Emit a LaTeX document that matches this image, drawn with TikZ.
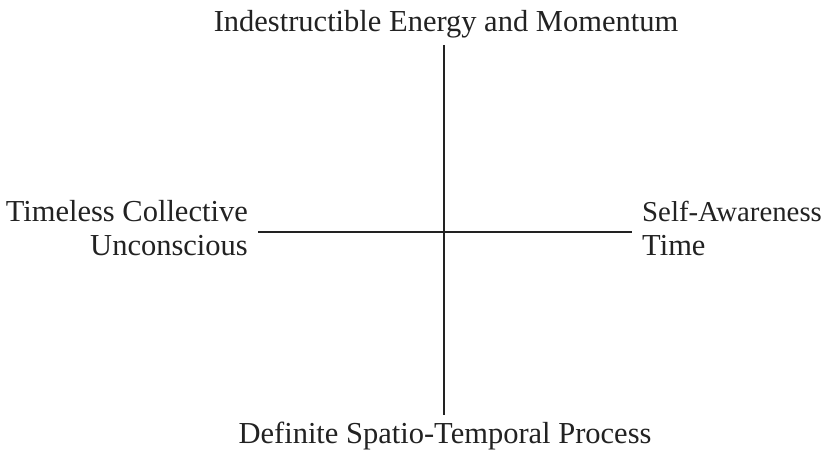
\documentclass[tikz,border=0pt]{standalone}
\usepackage{fontspec}
\setmainfont{Liberation Serif}
\definecolor{ink}{HTML}{222222}
\begin{document}
\begin{tikzpicture}[x=1pt,y=-1pt,
  label/.style={inner sep=0pt,text=ink,font=\fontsize{30.5}{34}\selectfont},
  axis/.style={draw=ink,line width=1.6pt}]
\useasboundingbox (0,0) rectangle (828,457);
% axis end points
\coordinate (n) at (444,45);
\coordinate (s) at (444,415);
\coordinate (w) at (258,232);
\coordinate (e) at (632,232);
\draw[axis] (n) -- (s);
\draw[axis] (w) -- (e);
% pole labels
\node[label,anchor=base] (top) at (446,32) {Indestructible Energy and Momentum};
\node[label,anchor=base] (bottom) at (445,443) {Definite Spatio-Temporal Process};
\node[label,anchor=base east] (left) at (248,222) {Timeless Collective};
\node[label,anchor=base east] (left2) at (248,256) {Unconscious};
\node[label,anchor=base west,font=\fontsize{28.8}{34}\selectfont] (right) at (642,222) {Self-Awareness};
\node[label,anchor=base west] (right2) at (642,256) {Time};
\end{tikzpicture}
\end{document}
